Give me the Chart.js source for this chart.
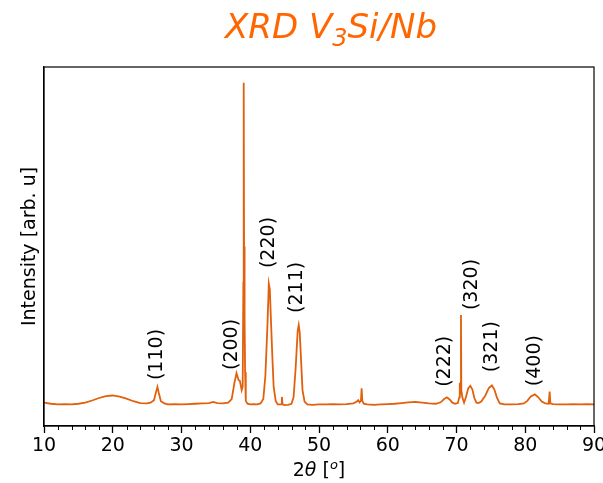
<!DOCTYPE html>
<html>
<head>
<meta charset="utf-8">
<script src="https://cdn.jsdelivr.net/npm/chart.js@4/dist/chart.umd.min.js"></script>
<style>
  html, body { margin: 0; padding: 0; background: #fff; }
  #wrap { width: 603px; height: 483px; }
</style>
</head>
<body>
<div id="wrap"><canvas id="xrdChart" width="603" height="483"></canvas></div>
<script>
// measured pattern (2theta in degrees, intensity in arbitrary units)
const twoTheta = [
  10, 11, 12, 13, 14, 15, 16, 17, 18, 19, 20, 21, 22, 23, 24, 25,
  25.5, 26.0, 26.3, 26.5, 26.7, 27.0, 27.5, 28, 29, 30, 31, 32, 33, 34, 34.6, 35.2, 36,
  36.8, 37.3, 37.7, 38.0, 38.3, 38.5, 38.75, 38.9, 39.0, 39.05, 39.1, 39.15, 39.2, 39.25, 39.35, 39.6,
  40, 40.5, 41, 41.5, 41.9, 42.2, 42.5, 42.7, 42.85, 43.0, 43.2, 43.4, 43.7, 44.0,
  44.5, 44.6, 44.7, 45, 45.5, 46.0, 46.3, 46.6, 46.9, 47.05, 47.2, 47.4, 47.6, 47.9, 48.3,
  49, 50, 51, 52, 53, 54, 55, 55.5, 55.7, 55.9, 56.1, 56.2, 56.3, 56.5,
  57, 58, 59, 60, 61, 62, 63, 64, 65, 66, 67, 67.7, 68.2, 68.6, 69.0, 69.4, 69.8,
  70.2, 70.4, 70.45, 70.5, 70.6, 70.65, 70.7, 70.85, 71.1, 71.4, 71.7, 72.0, 72.3, 72.6, 72.9,
  73.2, 73.6, 74.2, 74.7, 75.15, 75.5, 75.9, 76.3, 77, 78, 79, 79.8, 80.3, 80.8, 81.4, 81.9,
  82.4, 82.9, 83.4, 83.55, 83.65, 84, 85, 86, 87, 88, 89, 90
];
const intensity = [
  6.5, 6.2, 6.0, 6.1, 6.0, 6.2, 6.5, 7.1, 7.8, 8.3, 8.5, 8.2, 7.6, 6.9, 6.4, 6.3,
  6.5, 7.2, 9.5, 10.9, 9.2, 6.9, 6.3, 6.0, 6.1, 6.0, 6.1, 6.2, 6.3, 6.4, 6.7, 6.4, 6.3,
  6.5, 7.5, 12.0, 14.7, 12.8, 12.5, 10.0, 11.0, 40.0, 95.6, 50.0, 36.5, 30.0, 15.0, 7.0, 6.2,
  6.0, 6.1, 6.0, 6.3, 7.5, 14.0, 28.0, 39.6, 38.0, 30.0, 20.0, 11.0, 7.0, 6.0,
  6.0, 8.1, 6.0, 5.8, 5.9, 6.2, 8.0, 16.0, 26.5, 28.1, 26.0, 18.0, 10.0, 6.8, 6.0,
  5.9, 6.0, 6.0, 6.1, 6.0, 6.1, 6.3, 6.8, 7.2, 6.6, 7.0, 10.5, 7.0, 6.2,
  6.0, 5.9, 6.0, 6.1, 6.2, 6.4, 6.6, 6.7, 6.5, 6.3, 6.2, 6.6, 7.5, 8.0, 7.4, 6.5, 6.2,
  6.4, 8.0, 12.0, 8.0, 12.0, 30.9, 10.0, 8.0, 6.5, 8.2, 10.5, 11.2, 10.2, 7.8, 6.5,
  6.4, 6.8, 8.5, 10.6, 11.3, 10.2, 7.8, 6.3, 6.0, 6.0, 6.1, 6.3, 7.0, 8.2, 8.8, 8.0,
  6.8, 6.3, 6.2, 9.6, 6.3, 6.1, 6.0, 6.0, 6.1, 6.0, 6.1, 6.0
];

// Miller index labels and where they sit (x in degrees, y = bottom of text)
const peakNames = ['(110)', '(200)', '(220)', '(211)', '(222)', '(320)', '(321)', '(400)'];
const peakLabelX = [26.45, 37.35, 42.75, 46.8, 68.35, 72.25, 75.15, 81.4];
const peakLabelY = [12.8, 15.6, 44.0, 31.5, 10.9, 32.3, 15.0, 11.1];

const xTickValues = [10, 20, 30, 40, 50, 60, 70, 80, 90];

const points = twoTheta.map((t, i) => ({ x: t, y: intensity[i] }));

const FONT = '"DejaVu Sans", sans-serif';

// frame, minor ticks, peak labels, title and axis titles
const decorations = {
  id: 'decorations',
  afterDraw(chart) {
    const { ctx, chartArea: a, scales: { x, y } } = chart;
    ctx.save();

    // minor ticks every 2 degrees
    ctx.strokeStyle = '#000';
    ctx.lineWidth = 1;
    for (let t = 10; t <= 90; t += 2) {
      if (t % 10 === 0) continue;
      const px = Math.round(x.getPixelForValue(t)) + 0.5;
      ctx.beginPath();
      ctx.moveTo(px, a.bottom);
      ctx.lineTo(px, a.bottom + 4);
      ctx.stroke();
    }

    // box around the plot
    ctx.lineWidth = 1.2;
    ctx.strokeRect(a.left, a.top, a.right - a.left, a.bottom - a.top);

    // peak labels, rotated
    ctx.fillStyle = '#000';
    ctx.font = '19px ' + FONT;
    ctx.textAlign = 'left';
    ctx.textBaseline = 'middle';
    peakNames.forEach((name, i) => {
      const px = x.getPixelForValue(peakLabelX[i]);
      const py = y.getPixelForValue(peakLabelY[i]);
      ctx.save();
      ctx.translate(px, py);
      ctx.rotate(-Math.PI / 2);
      ctx.fillText(name, 0, 0);
      ctx.restore();
    });

    // y axis title
    ctx.save();
    ctx.translate(30, (a.top + a.bottom) / 2);
    ctx.rotate(-Math.PI / 2);
    ctx.textAlign = 'center';
    ctx.fillText('Intensity [arb. u]', 0, 0);
    ctx.restore();

    // x axis title: 2θ [°]
    const parts = [
      { t: '2', f: '19px ' + FONT, dy: 0 },
      { t: 'θ', f: 'italic 19px ' + FONT, dy: 0 },
      { t: ' [', f: '19px ' + FONT, dy: 0 },
      { t: 'o', f: 'italic 13px ' + FONT, dy: -7 },
      { t: ']', f: '19px ' + FONT, dy: 0 }
    ];
    let w = 0;
    parts.forEach(p => { ctx.font = p.f; w += ctx.measureText(p.t).width; });
    let cx = (a.left + a.right) / 2 - w / 2;
    ctx.textBaseline = 'alphabetic';
    parts.forEach(p => {
      ctx.font = p.f;
      ctx.fillText(p.t, cx, 476 + p.dy);
      cx += ctx.measureText(p.t).width;
    });

    // title: XRD V3Si/Nb
    ctx.fillStyle = '#ff6600';
    const tParts = [
      { t: 'XRD V', f: 'italic 34px ' + FONT, dy: 0 },
      { t: '3', f: 'italic 24px ' + FONT, dy: 8 },
      { t: 'Si/Nb', f: 'italic 34px ' + FONT, dy: 0 }
    ];
    w = 0;
    tParts.forEach(p => { ctx.font = p.f; w += ctx.measureText(p.t).width; });
    cx = 331 - w / 2;
    tParts.forEach(p => {
      ctx.font = p.f;
      ctx.fillText(p.t, cx, 38 + p.dy);
      cx += ctx.measureText(p.t).width;
    });

    ctx.restore();
  }
};

const xrdConfig = {
  type: 'line',
  data: {
    datasets: [{
      data: points,
      borderColor: '#e2600c',
      borderWidth: 1.8,
      pointRadius: 0,
      tension: 0,
      fill: false
    }]
  },
  options: {
    responsive: false,
    animation: false,
    layout: { padding: { top: 67, right: 9, left: 0, bottom: 0 } },
    scales: {
      x: {
        type: 'linear',
        min: 10,
        max: 90,
        afterBuildTicks: scale => { scale.ticks = xTickValues.map(v => ({ value: v })); },
        afterFit: scale => {
          scale.height = 57;
          scale.paddingLeft = 0;
          scale.paddingRight = 0;
        },
        grid: {
          drawOnChartArea: false,
          tickLength: 7,
          tickWidth: 1.3,
          tickColor: '#000'
        },
        border: { color: '#000', width: 1.2 },
        ticks: {
          color: '#000',
          font: { family: FONT, size: 19 },
          padding: 2,
          maxRotation: 0
        }
      },
      y: {
        min: 0,
        max: 100,
        afterFit: scale => { scale.width = 44; },
        grid: { display: false },
        border: { color: '#000', width: 1.2 },
        ticks: { display: false }
      }
    },
    plugins: {
      legend: { display: false },
      tooltip: { enabled: false }
    }
  },
  plugins: [decorations]
};

var ctx = document.getElementById('xrdChart');
var xrdChart = new Chart(ctx, xrdConfig);
</script>
</body>
</html>
